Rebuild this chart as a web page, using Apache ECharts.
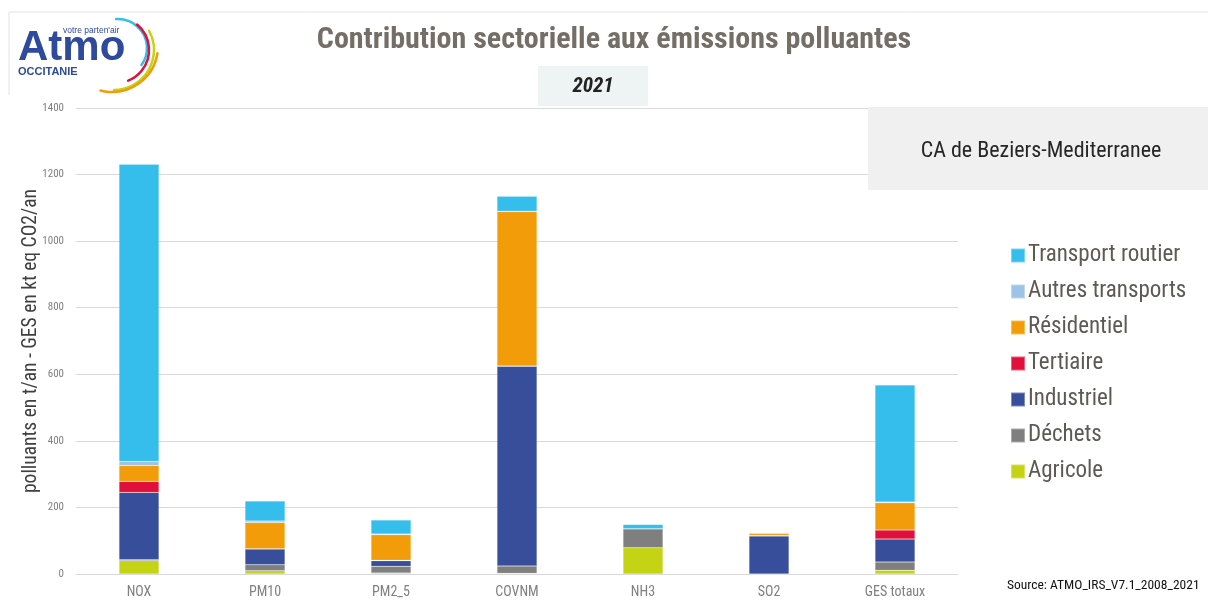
<!DOCTYPE html>
<html>
<head>
<meta charset="utf-8">
<script src="https://cdn.jsdelivr.net/npm/echarts@6/dist/echarts.min.js"></script>
<style>
html,body{margin:0;padding:0;background:#fff;}
#chart{width:1208px;height:603px;}
</style>
</head>
<body>
<div id="chart"></div>
<script>
var categories = ['NOX','PM10','PM2_5','COVNM','NH3','SO2','GES totaux'];
var agricole         = [40, 10, 3, 2, 79, 0, 11];
var dechets          = [3, 18, 20, 22, 57, 0, 25];
var industriel       = [202, 47, 17, 600, 0, 114, 69];
var tertiaire        = [33, 1, 1, 1, 0, 2, 27];
var residentiel      = [48, 79, 77, 464, 0, 6, 82];
var autresTransports = [12, 4, 2, 1, 0, 0, 2];
var transportRoutier = [893, 60, 42, 45, 13, 2, 352];
var yTicks = [0, 200, 400, 600, 800, 1000, 1200, 1400];

var NARROW = "'Liberation Sans Narrow','Arial Narrow','Roboto Condensed',sans-serif";

var seriesDefs = [
  {name:'Agricole', data:agricole, color:'#C4D314'},
  {name:'Déchets', data:dechets, color:'#7F7F7F'},
  {name:'Industriel', data:industriel, color:'#374F9A'},
  {name:'Tertiaire', data:tertiaire, color:'#E0103A'},
  {name:'Résidentiel', data:residentiel, color:'#F39C0A'},
  {name:'Autres transports', data:autresTransports, color:'#9DC3E6'},
  {name:'Transport routier', data:transportRoutier, color:'#35BDEB'}
];

var chart = echarts.init(document.getElementById('chart'), null, {renderer:'canvas'});

var option = {
  backgroundColor:'#ffffff',
  animation:false,
  grid:{left:76, right:250, top:108, bottom:29, containLabel:false},
  legend:{
    orient:'vertical', left:1005, top:239,
    itemWidth:14, itemHeight:14, itemGap:13, icon:'rect',
    data:['Transport routier','Autres transports','Résidentiel','Tertiaire','Industriel','Déchets','Agricole'],
    textStyle:{fontFamily:NARROW, fontSize:23, color:'#5E5953', lineHeight:22, padding:[0,0,0,-2]}
  },
  xAxis:{
    type:'category', data:categories,
    axisLine:{show:true, lineStyle:{color:'#D9D9D9', width:1}},
    axisTick:{show:false},
    axisLabel:{fontFamily:NARROW, fontSize:14, color:'#7F7F7F', margin:11}
  },
  yAxis:{
    type:'value', min:yTicks[0], max:yTicks[yTicks.length-1], interval:200,
    axisLine:{show:false}, axisTick:{show:false},
    splitLine:{lineStyle:{color:'#D9D9D9', width:1}},
    axisLabel:{fontFamily:NARROW, fontSize:11, color:'#808080', margin:12, formatter:function(v){return String(v);}}
  },
  series: seriesDefs.map(function(s){
    return {
      name:s.name, type:'bar', stack:'total', data:s.data,
      barWidth:40,
      itemStyle:{color:s.color, borderColor:'rgba(255,255,255,0.35)', borderWidth:0.5},
      emphasis:{disabled:true}
    };
  }),
  graphic:[
    {type:'line', shape:{x1:9,y1:12,x2:1208,y2:12}, style:{stroke:'#E3E3E3', lineWidth:1}, silent:true},
    {type:'line', shape:{x1:9,y1:12,x2:9,y2:95}, style:{stroke:'#E3E3E3', lineWidth:1}, silent:true},
    {type:'text', x:31, y:341, rotation:Math.PI/2, style:{text:'polluants en t/an - GES en kt eq CO2/an', fontFamily:NARROW, fontSize:19.5, fill:'#404040', textAlign:'center', textVerticalAlign:'middle'}},
    {type:'text', x:614, y:40, style:{text:'Contribution sectorielle aux émissions polluantes', fontFamily:NARROW, fontWeight:'bold', fontSize:30, fill:'#746E67', textAlign:'center', textVerticalAlign:'middle'}},
    {type:'rect', shape:{x:538,y:66,width:110,height:40}, style:{fill:'#EEF3F3'}},
    {type:'text', x:593, y:87, style:{text:'2021', fontFamily:NARROW, fontWeight:'bold', fontStyle:'italic', fontSize:21, fill:'#222222', textAlign:'center', textVerticalAlign:'middle'}},
    {type:'rect', shape:{x:868,y:107,width:340,height:83}, style:{fill:'#F0F0F0'}, z:10},
    {type:'text', x:1041, y:151, z:11, style:{text:'CA de Beziers-Mediterranee', fontFamily:NARROW, fontSize:22, fill:'#262626', textAlign:'center', textVerticalAlign:'middle'}},
    {type:'text', x:1007, y:586, style:{text:'Source: ATMO_IRS_V7.1_2008_2021', fontFamily:NARROW, fontSize:13.5, fill:'#111111', textAlign:'left', textVerticalAlign:'middle'}},
    // logo
    {type:'text', x:18, y:48, style:{text:'Atmo', fontFamily:"'Liberation Sans',Arial,sans-serif", fontWeight:'bold', fontSize:42, fill:'#2E4A9C', textAlign:'left', textVerticalAlign:'middle'}},
    {type:'text', x:63, y:31, style:{text:"votre parten'air", fontFamily:"'Liberation Sans',Arial,sans-serif", fontSize:8.5, fill:'#2E4A9C', textAlign:'left', textVerticalAlign:'middle'}},
    {type:'text', x:18, y:72, style:{text:'OCCITANIE', fontFamily:"'Liberation Sans',Arial,sans-serif", fontWeight:'bold', fontSize:11, fill:'#2E4A9C', textAlign:'left', textVerticalAlign:'middle'}},
    {type:'arc', shape:{cx:118,cy:48,r:29,startAngle:-Math.PI*0.52,endAngle:Math.PI*0.2,clockwise:true}, style:{stroke:'#35BDEB', lineWidth:2.5, fill:null, lineCap:'round'}},
    {type:'arc', shape:{cx:116,cy:50,r:33,startAngle:-Math.PI*0.28,endAngle:Math.PI*0.38,clockwise:true}, style:{stroke:'#E0103A', lineWidth:2.5, fill:null, lineCap:'round'}},
    {type:'arc', shape:{cx:114,cy:50,r:40,startAngle:-Math.PI*0.16,endAngle:Math.PI*0.5,clockwise:true}, style:{stroke:'#C4D314', lineWidth:2.5, fill:null, lineCap:'round'}},
    {type:'arc', shape:{cx:112,cy:46,r:46,startAngle:Math.PI*0.05,endAngle:Math.PI*0.58,clockwise:true}, style:{stroke:'#F39C0A', lineWidth:2.5, fill:null, lineCap:'round'}}
  ]
};
chart.setOption(option);
</script>
</body>
</html>
